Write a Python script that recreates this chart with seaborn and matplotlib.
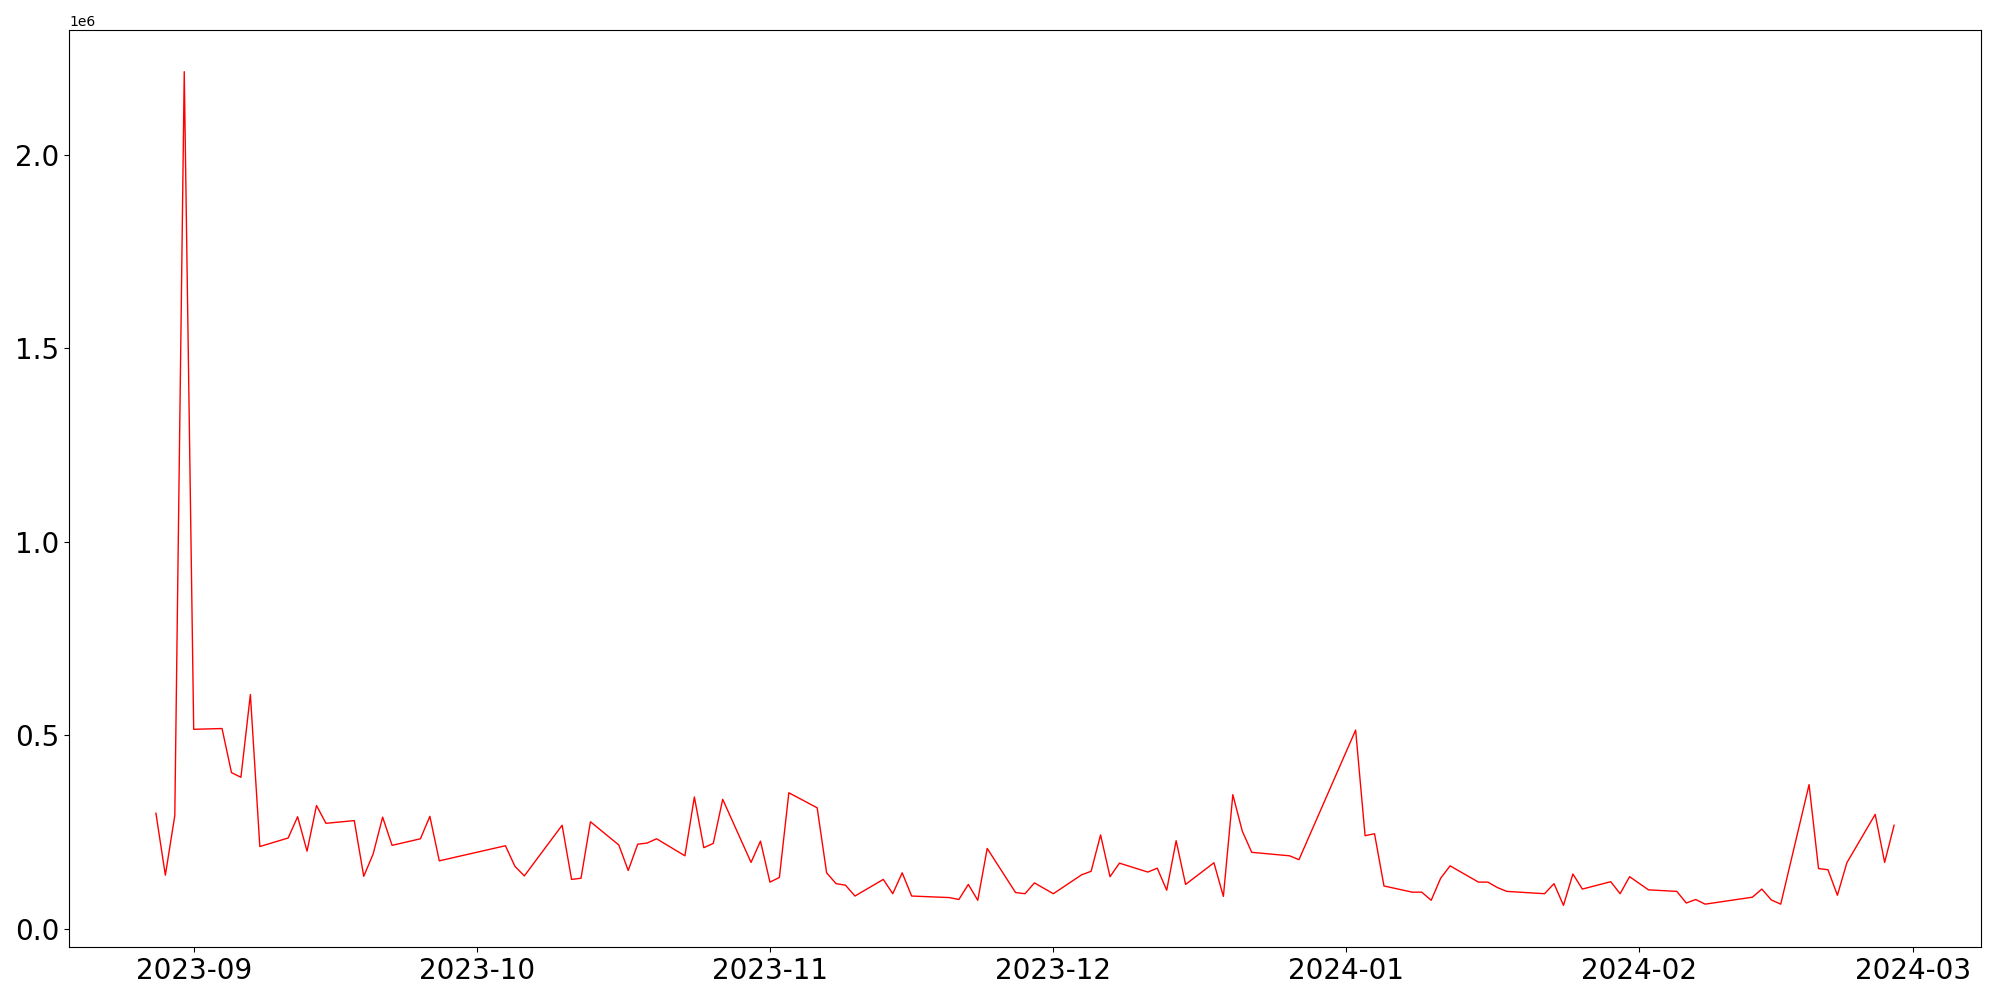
import pandas as pd
import numpy as np
import seaborn as sns
import matplotlib.pyplot as plt

### 1. Data
dates = [
    "2023-08-28", "2023-08-29", "2023-08-30", "2023-08-31", "2023-09-01",
    "2023-09-04", "2023-09-05", "2023-09-06", "2023-09-07", "2023-09-08",
    "2023-09-11", "2023-09-12", "2023-09-13", "2023-09-14", "2023-09-15",
    "2023-09-18", "2023-09-19", "2023-09-20", "2023-09-21", "2023-09-22",
    "2023-09-25", "2023-09-26", "2023-09-27",
    "2023-10-04", "2023-10-05", "2023-10-06",
    "2023-10-10", "2023-10-11", "2023-10-12", "2023-10-13",
    "2023-10-16", "2023-10-17", "2023-10-18", "2023-10-19", "2023-10-20",
    "2023-10-23", "2023-10-24", "2023-10-25", "2023-10-26", "2023-10-27",
    "2023-10-30", "2023-10-31", "2023-11-01", "2023-11-02", "2023-11-03",
    "2023-11-06", "2023-11-07", "2023-11-08", "2023-11-09", "2023-11-10",
    "2023-11-13", "2023-11-14", "2023-11-15", "2023-11-16",
    "2023-11-20", "2023-11-21", "2023-11-22", "2023-11-23", "2023-11-24",
    "2023-11-27", "2023-11-28", "2023-11-29", "2023-12-01",
    "2023-12-04", "2023-12-05", "2023-12-06", "2023-12-07", "2023-12-08",
    "2023-12-11", "2023-12-12", "2023-12-13", "2023-12-14", "2023-12-15",
    "2023-12-18", "2023-12-19", "2023-12-20", "2023-12-21", "2023-12-22",
    "2023-12-26", "2023-12-27",
    "2024-01-02", "2024-01-03", "2024-01-04", "2024-01-05",
    "2024-01-08", "2024-01-09", "2024-01-10", "2024-01-11", "2024-01-12",
    "2024-01-15", "2024-01-16", "2024-01-17", "2024-01-18",
    "2024-01-22", "2024-01-23", "2024-01-24", "2024-01-25", "2024-01-26",
    "2024-01-29", "2024-01-30", "2024-01-31", "2024-02-02",
    "2024-02-05", "2024-02-06", "2024-02-07", "2024-02-08",
    "2024-02-13", "2024-02-14", "2024-02-15", "2024-02-16",
    "2024-02-19", "2024-02-20", "2024-02-21", "2024-02-22", "2024-02-23",
    "2024-02-26", "2024-02-27", "2024-02-28",
]
volume = [
    298000, 138000, 292000, 2215000, 515000,
    517000, 403000, 391000, 605000, 212000,
    234000, 289000, 200000, 318000, 272000,
    279000, 135000, 193000, 288000, 215000,
    232000, 290000, 175000,
    214000, 161000, 136000,
    267000, 127000, 130000, 276000,
    216000, 150000, 218000, 221000, 232000,
    188000, 340000, 209000, 220000, 334000,
    171000, 226000, 120000, 132000, 351000,
    312000, 144000, 116000, 112000, 84000,
    127000, 90000, 144000, 84000,
    80000, 75000, 114000, 73000, 207000,
    93000, 90000, 118000, 90000,
    139000, 148000, 242000, 134000, 169000,
    146000, 156000, 99000, 227000, 114000,
    170000, 83000, 346000, 252000, 197000,
    188000, 178000,
    513000, 240000, 245000, 110000,
    94000, 94000, 73000, 130000, 162000,
    120000, 120000, 106000, 96000,
    90000, 116000, 60000, 141000, 102000,
    121000, 90000, 134000, 100000,
    96000, 66000, 75000, 63000,
    81000, 102000, 74000, 63000,
    372000, 155000, 152000, 86000, 170000,
    295000, 171000, 267000,
]

df = pd.DataFrame({"date": pd.to_datetime(dates), "volume": volume})

### 2. Plot
fig, ax = plt.subplots(figsize=(20, 10), dpi=100)
sns.lineplot(data=df, x="date", y="volume", color="red", linewidth=1, ax=ax)
ax.set_xlabel("")
ax.set_ylabel("")
ax.tick_params(axis="both", labelsize=20)

fig.subplots_adjust(left=0.0345, right=0.9905, top=0.97, bottom=0.053)
fig.savefig("out.png")
